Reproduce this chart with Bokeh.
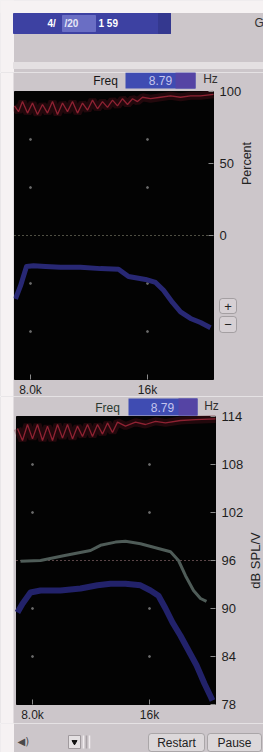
import math
from itertools import product
from bokeh.plotting import figure
from bokeh.layouts import column
from bokeh.models import Range1d, FixedTicker, Label, BoxAnnotation
from bokeh.embed import file_html
from bokeh.resources import INLINE
from bokeh.core.properties import value

FONT = "Liberation Sans"
BG = "#ccc6ca"
PAGE_BG = "#f6f2f3"

# ---------------- data ----------------
freq_ticks = [8000, 16000]
freq_tick_labels = {8000: "8.0k", 16000: "16k"}
freq_min, freq_max = 6906, 20513

pct_ticks = [0, 50, 100]
pct_grid = [-66.7, -33.3, 33.3, 66.7]
pct_min, pct_max = -100, 100
pct_ref = 0

spl_ticks = [78, 84, 90, 96, 102, 108, 114]
spl_grid = [84, 90, 102, 108]
spl_min, spl_max = 78, 114
spl_ref = 96

freq_readout = "8.79"
header_parts = ["4/", "/20", "1 59"]

# top panel (Percent)
p1_red_f = [6906, 7180, 7453, 7795, 8137, 8479, 8821, 9163, 9505, 9847, 10188, 10530,
            10872, 11214, 11556, 11898, 12240, 12582, 12923, 13265, 13607, 13949, 14291,
            14633, 14975, 15317, 15659, 16206, 16890, 17574, 18258, 18942, 19626, 20515]
p1_red_v = [90, 86, 93, 85, 92, 84, 91, 85, 93, 84, 92, 86,
            93, 85, 92, 87, 94, 88, 93, 89, 94, 90, 95,
            91, 95, 93, 96, 95, 96, 97, 96, 97, 97, 98]
p1_blue_f = [6974, 7316, 7727, 8205, 9026, 10051, 11419, 12787, 14018, 14701, 15864,
             16548, 17095, 17710, 18257, 18941, 19625, 20308]
p1_blue_v = [-44, -35, -21.5, -21, -21.5, -22, -22, -23, -23.5, -28.5, -30.5,
             -32.6, -38, -46.5, -53, -57.6, -60.4, -64]

# bottom panel (dB SPL/V)
p2_red_f = [6974, 7316, 7658, 8000, 8342, 8684, 9026, 9368, 9710, 10052, 10393, 10735,
            11077, 11419, 11761, 12103, 12445, 12787, 13129, 13470, 13812, 14359, 15043,
            15727, 16411, 17095, 18120, 19146, 20514]
p2_red_v = [112.5, 111, 113, 111.2, 113, 111, 112.8, 111, 113, 111.3, 113, 111.2,
            112.8, 111.5, 113, 111.5, 113, 111.8, 113.2, 112, 113.3, 112.8, 113.3,
            113, 113.4, 113.2, 113.5, 113.6, 113.7]
p2_gray_f = [7180, 8547, 10120, 11966, 12650, 13675, 14359, 15385, 16411, 17437, 17984,
             18462, 19010, 19488, 19898]
p2_gray_v = [95.9, 96.0, 96.6, 97.25, 97.9, 98.3, 98.4, 98.1, 97.6, 97.1, 96.0,
             94.1, 92.25, 91.25, 90.9]
p2_blue_f = [6974, 7316, 7863, 8547, 9915, 11282, 12445, 13334, 14359, 15385, 16069,
             16616, 17095, 17574, 18120, 18667, 19215, 19762, 20309]
p2_blue_v = [89.5, 90.6, 92.0, 92.25, 92.25, 92.5, 92.9, 93.1, 93.1, 92.9, 92.25,
             91.6, 90.0, 88.25, 86.6, 84.75, 82.9, 80.6, 78.5]

X0, X1 = 0, 263  # page pixel extent
W = X1 - X0

# ------------- layout helpers (page pixel -> panel coords, for UI chrome only) -------------
HZ_PER_PX = (freq_max - freq_min) / 199.0
def f1(px):  # top panel plot area starts at page x 14
    return freq_min + (px - 14) * HZ_PER_PX
def f2(px):  # bottom panel plot area starts at page x 16
    return freq_min + (px - 16) * HZ_PER_PX
def v1(py):  # top panel: -100 at page y 379, 1.44 px per %
    return pct_min + (379 - py) / 1.44
def v2(py):  # bottom panel: 78 at page y 704, 8 px per dB
    return spl_min + (704 - py) / 8.0


def base(height, xr, yr, **kw):
    p = figure(width=W, height=height, x_range=xr, y_range=yr, output_backend="svg",
               toolbar_location=None, min_border=0, min_border_left=0, min_border_right=0,
               min_border_top=0, min_border_bottom=0, **kw)
    p.background_fill_color = BG
    p.border_fill_color = BG
    p.outline_line_color = None
    p.grid.visible = False
    return p


def style(p, yticks, x_loc, y_loc):
    p.xaxis.ticker = FixedTicker(ticks=freq_ticks)
    p.xaxis.major_label_overrides = freq_tick_labels
    p.yaxis.ticker = FixedTicker(ticks=yticks)
    p.xaxis.fixed_location = x_loc
    p.yaxis.fixed_location = y_loc
    for ax in p.axis:
        ax.axis_line_color = None
        ax.major_tick_in = 5
        ax.major_tick_out = 0
        ax.minor_tick_line_color = None
        ax.major_tick_line_color = "#8a8a8a"
        ax.major_label_text_font = FONT
        ax.major_label_text_color = "#1e1e1e"
    p.xaxis.major_label_text_font_size = "12px"
    p.xaxis.major_label_standoff = 3
    p.yaxis.major_label_text_font_size = "13px"
    p.yaxis.major_label_standoff = 6


def lbl(p, x, y, text, size="12px", color="#1a1a1a", align="center", angle=0, style_="normal"):
    p.add_layout(Label(x=x, y=y, text=text, text_font=FONT, text_font_size=size,
                       text_color=color, text_align=align, text_baseline="middle",
                       angle=angle, text_font_style=style_))


def white_edge(p, fx, top, bottom):
    # light window edge at page x 0..13
    p.add_layout(BoxAnnotation(left=fx(X0), right=fx(13), top=top, bottom=bottom,
                               fill_color=PAGE_BG, fill_alpha=1, line_color=None))


# ---------------- header (page y 0..72) ----------------
hd = base(72, Range1d(X0, X1), Range1d(-72, 0), x_axis_type=None, y_axis_type=None)
hd.quad(left=X0, right=X1, top=0, bottom=-12, color=PAGE_BG)
hd.quad(left=X0, right=13, top=0, bottom=-72, color=PAGE_BG)
hd.quad(left=13, right=170, top=-13, bottom=-33, color="#3d41a2")
hd.quad(left=62, right=95, top=-15, bottom=-31, color="#6a6ec4")
hd.quad(left=158, right=170, top=-13, bottom=-33, color="#34388f")
hd.quad(left=13, right=X1, top=-62, bottom=-68, color="#e4e0e2")
hd.text(x=[47, 64, 98], y=[-23, -23, -23], text=header_parts,
        text_font=value(FONT), text_font_size="10px", text_font_style="bold",
        text_color=["#ffffff", "#e6e6f6", "#ffffff"], text_baseline="middle")
hd.text(x=[254], y=[-22], text=["G"], text_font=value(FONT), text_font_size="12px",
        text_color="#333333", text_baseline="middle")

# ---------------- top panel (page y 72..396) ----------------
p1 = base(324, Range1d(f1(X0), f1(X1)), Range1d(v1(396), v1(72)), y_axis_location="right")
style(p1, pct_ticks, pct_min, freq_max)
white_edge(p1, f1, v1(72), v1(396))
p1.quad(left=freq_min, right=freq_max, bottom=pct_min, top=pct_max, color="#030303")
gx, gy = zip(*product(freq_ticks, pct_grid))
p1.scatter(list(gx), list(gy), size=2, color="#6a6a6a")
p1.segment(x0=[freq_min], y0=[pct_ref], x1=[freq_max], y1=[pct_ref], line_color="#9c9c84",
           line_dash="1 3", line_width=1)
p1.line(p1_red_f, p1_red_v, line_color="#6a1422", line_width=8, line_alpha=0.3)
p1.line(p1_red_f, p1_red_v, line_color="#8e2232", line_width=1.3)
p1.line(p1_blue_f, p1_blue_v, line_color="#282874", line_width=5, line_join="round")

p1.add_layout(BoxAnnotation(left=f1(125), right=f1(195), top=v1(72), bottom=v1(88),
                            fill_color="#3f4cb2", fill_alpha=1, line_color=None))
p1.add_layout(BoxAnnotation(left=f1(175), right=f1(195), top=v1(72), bottom=v1(88),
                            fill_color="#5544a4", fill_alpha=1, line_color=None))
lbl(p1, f1(105), v1(80), "Freq", size="12px", color="#151515")
lbl(p1, f1(160), v1(80), freq_readout, size="12px", color="#c4c4ee")
lbl(p1, f1(210), v1(78), "Hz", size="12px", color="#303030")
lbl(p1, f1(246.5), 50, "Percent", size="12.5px", color="#222222", angle=math.pi / 2)
for top, bot, sym in [(298, 313, "+"), (316, 332, "\u2212")]:
    p1.add_layout(BoxAnnotation(left=f1(219), right=f1(236), top=v1(top), bottom=v1(bot),
                                fill_color="#d6d0d4", fill_alpha=1, line_color="#3a3a3a",
                                line_width=1, border_radius=3))
    lbl(p1, f1(227.5), v1((top + bot) / 2), sym, size="13px", color="#222222")

# ---------------- bottom panel (page y 396..723) ----------------
p2 = base(327, Range1d(f2(X0), f2(X1)), Range1d(v2(723), v2(396)), y_axis_location="right")
style(p2, spl_ticks, spl_min, freq_max)
white_edge(p2, f2, v2(396), v2(723))
p2.quad(left=freq_min, right=freq_max, bottom=spl_min, top=spl_max, color="#030303")
gx2, gy2 = zip(*product(freq_ticks, spl_grid))
p2.scatter(list(gx2), list(gy2), size=2, color="#6a6a6a")
p2.segment(x0=[freq_min], y0=[spl_ref], x1=[freq_max], y1=[spl_ref], line_color="#b48a8e",
           line_dash="1 3", line_width=1)
p2.line(p2_red_f, p2_red_v, line_color="#6a1422", line_width=8, line_alpha=0.3)
p2.line(p2_red_f, p2_red_v, line_color="#8e2232", line_width=1.3)
p2.line(p2_gray_f, p2_gray_v, line_color="#4f5c58", line_width=3, line_join="round")
p2.line(p2_blue_f, p2_blue_v, line_color="#22226a", line_width=6, line_join="round")

p2.add_layout(BoxAnnotation(left=f2(128), right=f2(197), top=v2(398), bottom=v2(415),
                            fill_color="#3f4cb2", fill_alpha=1, line_color=None))
p2.add_layout(BoxAnnotation(left=f2(178), right=f2(197), top=v2(398), bottom=v2(415),
                            fill_color="#5544a4", fill_alpha=1, line_color=None))
lbl(p2, f2(107), v2(407), "Freq", size="12px", color="#2a3a30")
lbl(p2, f2(162), v2(407), freq_readout, size="12px", color="#c4c4ee")
lbl(p2, f2(211), v2(405), "Hz", size="12px", color="#303030")
lbl(p2, f2(255), 96, "dB SPL/V", size="13px", color="#222222", angle=math.pi / 2)

# ---------------- footer (page y 723..752) ----------------
ft = base(29, Range1d(X0, X1), Range1d(-752, -723), x_axis_type=None, y_axis_type=None)
ft.quad(left=X0, right=13, top=-723, bottom=-752, color=PAGE_BG)
ft.text(x=[17], y=[-741], text=["\u25c0)"], text_font=value("DejaVu Sans"),
        text_font_size="10px", text_color="#4a4a4a", text_baseline="middle")
ft.quad(left=68, right=80, top=-735, bottom=-748, fill_color="#e4e0e2", line_color="#a09a9e")
ft.scatter([74], [-741.5], marker="inverted_triangle", size=5, color="#111111")
ft.segment(x0=[83, 86, 89], y0=[-735] * 3, x1=[83, 86, 89], y1=[-748] * 3,
           line_color=["#f0ecee", "#a8a2a6", "#f0ecee"], line_width=1.5)
for l, r, t in [(148, 204, "Restart"), (207, 261, "Pause")]:
    ft.add_layout(BoxAnnotation(left=l, right=r, top=-733, bottom=-751, fill_color="#dcd8da",
                                fill_alpha=1, line_color="#4a4a4a", line_width=1, border_radius=3))
    lbl(ft, (l + r) / 2, -742, t, size="12px", color="#222222")

layout = column(hd, p1, p2, ft)

open("out.html", "w").write(file_html(layout, INLINE, title="chart"))
